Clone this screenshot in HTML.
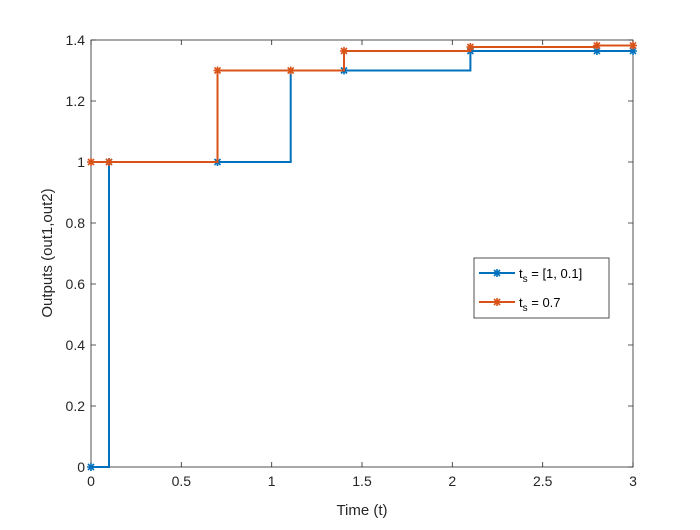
<!DOCTYPE html>
<html><head><meta charset="utf-8"><style>
html,body{margin:0;padding:0;background:#fff;}
svg text{font-family:"Liberation Sans",sans-serif;}
</style></head><body>
<svg width="700" height="525" viewBox="0 0 700 525" xmlns="http://www.w3.org/2000/svg">
<rect width="700" height="525" fill="#fff"/>
<defs>
<g id="m"><path d="M-4,0H4M0,-4V4M-3,-3L3,3M-3,3L3,-3" stroke-width="1.6" fill="none"/></g>
</defs>
<rect x="91" y="40" width="542" height="427" fill="#fff" stroke="#262626" stroke-width="0.8"/>
<g stroke="#262626" stroke-width="0.8">
<path d="M91,467v-5M181.3,467v-5M271.7,467v-5M362,467v-5M452.3,467v-5M542.7,467v-5M633,467v-5"/>
<path d="M91,40v5M181.3,40v5M271.7,40v5M362,40v5M452.3,40v5M542.7,40v5M633,40v5"/>
<path d="M91,467h5M91,406h5M91,345h5M91,284h5M91,223h5M91,162h5M91,101h5M91,40h5"/>
<path d="M633,467h-5M633,406h-5M633,345h-5M633,284h-5M633,223h-5M633,162h-5M633,101h-5M633,40h-5"/>
</g>
<g font-size="14" fill="#262626" text-anchor="middle">
<text x="91" y="486">0</text><text x="181.3" y="486">0.5</text><text x="271.7" y="486">1</text><text x="362" y="486">1.5</text><text x="452.3" y="486">2</text><text x="542.7" y="486">2.5</text><text x="633" y="486">3</text>
</g>
<g font-size="14" fill="#262626" text-anchor="end">
<text x="85" y="472">0</text><text x="85" y="411">0.2</text><text x="85" y="350">0.4</text><text x="85" y="289">0.6</text><text x="85" y="228">0.8</text><text x="85" y="167">1</text><text x="85" y="106">1.2</text><text x="85" y="45">1.4</text>
</g>
<text x="362" y="515" font-size="15" fill="#262626" text-anchor="middle">Time (t)</text>
<text transform="translate(52,253) rotate(-90)" font-size="15" fill="#262626" text-anchor="middle">Outputs (out1,out2)</text>
<path d="M91,467H109V162H290.7V70.5H470.4V51H633" fill="none" stroke="#0072BD" stroke-width="2"/>
<g stroke="#0072BD">
<use href="#m" x="91" y="467"/><use href="#m" x="109" y="162"/><use href="#m" x="217.5" y="162"/><use href="#m" x="344" y="70.5"/><use href="#m" x="470.4" y="51"/><use href="#m" x="596.9" y="51"/><use href="#m" x="633" y="51"/>
</g>
<path d="M91,162H217.5V70.5H344V51H470.4V47H596.9V45.5H633" fill="none" stroke="#D95319" stroke-width="2"/>
<g stroke="#D95319">
<use href="#m" x="91" y="162"/><use href="#m" x="109" y="162"/><use href="#m" x="217.5" y="70.5"/><use href="#m" x="290.7" y="70.5"/><use href="#m" x="344" y="51"/><use href="#m" x="470.4" y="47"/><use href="#m" x="596.9" y="45.5"/><use href="#m" x="633" y="45.5"/>
</g>
<rect x="474" y="258" width="135" height="60" fill="#fff" stroke="#262626" stroke-width="0.8"/>
<path d="M479,273H515" stroke="#0072BD" stroke-width="2"/><use href="#m" x="497" y="273" stroke="#0072BD"/>
<path d="M479,302H515" stroke="#D95319" stroke-width="2"/><use href="#m" x="497" y="302" stroke="#D95319"/>
<g font-size="13" fill="#000">
<text x="519" y="278">t<tspan font-size="10" dy="4">s</tspan><tspan dy="-4"> = [1, 0.1]</tspan></text>
<text x="519" y="307">t<tspan font-size="10" dy="4">s</tspan><tspan dy="-4"> = 0.7</tspan></text>
</g>
</svg>
</body></html>
